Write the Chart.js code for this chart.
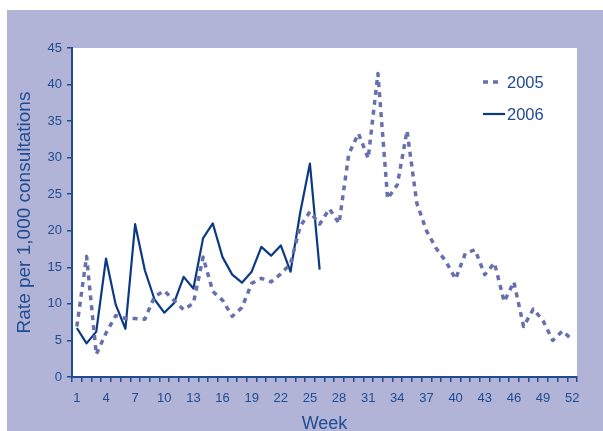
<!DOCTYPE html>
<html>
<head>
<meta charset="utf-8">
<script src="https://cdn.jsdelivr.net/npm/chart.js@4.4.1/dist/chart.umd.min.js"></script>
<style>
    html, body { margin: 0; padding: 0; background: #fff; overflow: hidden; }
    #wrap { position: absolute; left: 0; top: 0; width: 603px; height: 440px; }
</style>
</head>
<body>
<div id="wrap"><canvas id="chartRate" width="603" height="440"></canvas></div>
<script>
const WEEKS = ['1', '2', '3', '4', '5', '6', '7', '8', '9', '10', '11', '12', '13', '14', '15', '16', '17', '18',
    '19', '20', '21', '22', '23', '24', '25', '26', '27', '28', '29', '30', '31', '32', '33', '34', '35', '36',
    '37', '38', '39', '40', '41', '42', '43', '44', '45', '46', '47', '48', '49', '50', '51', '52'];

const RATE_2005 = [6.9, 16.5, 3.1, 6.0, 8.4, 8.0, 8.0, 7.9, 11.0, 11.8, 10.5, 9.2, 10.1, 16.4, 11.7, 10.5, 8.3, 9.5,
    12.8, 13.5, 13.0, 14.1, 15.5, 20.6, 22.6, 20.9, 23.0, 21.0, 30.5, 33.3, 29.9, 41.5, 24.4, 26.3, 33.7, 23.8,
    20.0, 17.6, 15.8, 13.4, 16.9, 17.4, 14.0, 15.6, 10.3, 13.0, 6.9, 9.3, 7.7, 5.0, 6.3, 5.1];

const RATE_2006 = [6.7, 4.6, 6.2, 16.2, 9.9, 6.6, 20.9, 14.6, 10.6, 8.8, 10.1, 13.7, 12.1, 19.0, 21.0, 16.4, 14.0, 12.9,
    14.4, 17.8, 16.6, 18.0, 14.4, 22.5, 29.2, 14.7];

const Y_TICKS = { min: 0, max: 45, step: 5 };

const INK = '#214c91';
const BG = '#b1b4d6';
const FONT = "'Liberation Sans', Arial, sans-serif";

// lavender frame + white plot area
const framePlugin = {
    id: 'frame',
    beforeDraw(chart) {
        const { ctx, chartArea: a } = chart;
        ctx.save();
        ctx.fillStyle = BG;
        ctx.fillRect(7, 10, chart.width - 7, chart.height - 10);
        ctx.fillStyle = '#ffffff';
        ctx.fillRect(a.left, a.top, a.right - a.left, a.bottom - a.top);
        ctx.restore();
    },
};

// legend inside the plot, top right
const legendPlugin = {
    id: 'insideLegend',
    afterDatasetsDraw(chart) {
        const { ctx } = chart;
        ctx.save();
        chart.data.datasets.forEach((ds, i) => {
            const y = 82 + i * 32;
            ctx.strokeStyle = ds.borderColor;
            ctx.lineWidth = ds.borderWidth;
            ctx.setLineDash(ds.borderDash || []);
            ctx.beginPath();
            ctx.moveTo(483, y);
            ctx.lineTo(ds.borderDash ? 501 : 505, y);
            ctx.stroke();
            ctx.setLineDash([]);
            ctx.fillStyle = INK;
            ctx.font = `16.5px ${FONT}`;
            ctx.textBaseline = 'middle';
            ctx.fillText(ds.label, 507, y + 1);
        });
        ctx.restore();
    },
};

new Chart(document.getElementById('chartRate'), {
    type: 'line',
    data: {
        labels: WEEKS,
        datasets: [{
            label: '2005',
            data: RATE_2005,
            borderColor: '#6770ad',
            borderWidth: 3.5,
            borderDash: [5, 5],
            borderJoinStyle: 'round',
            pointRadius: 0,
            tension: 0,
        }, {
            label: '2006',
            data: RATE_2006,
            borderColor: '#0c3a82',
            borderWidth: 2.2,
            borderJoinStyle: 'round',
            pointRadius: 0,
            tension: 0,
        }],
    },
    options: {
        responsive: false,
        animation: false,
        layout: { padding: { top: 48, right: 26, left: 0, bottom: 0 } },
        plugins: {
            legend: { display: false },
            tooltip: { enabled: false },
        },
        scales: {
            x: {
                type: 'category',
                offset: true,
                afterFit: s => { s.height = 63; },
                border: { color: INK, width: 2 },
                grid: { offset: true, drawOnChartArea: false, tickLength: 5, color: INK, lineWidth: 1.5 },
                ticks: {
                    autoSkip: false,
                    maxRotation: 0,
                    padding: 9,
                    color: INK,
                    font: { family: FONT, size: 13 },
                    callback: (v, i) => (i % 3 === 0 ? WEEKS[i] : ''),
                },
                title: {
                    display: true,
                    text: 'Week',
                    color: INK,
                    font: { family: FONT, size: 18 },
                    padding: { top: 0, bottom: 5 },
                },
            },
            y: {
                min: Y_TICKS.min,
                max: Y_TICKS.max,
                afterFit: s => { s.width = 72; },
                border: { color: INK, width: 2 },
                grid: { drawOnChartArea: false, tickLength: 5, color: INK, lineWidth: 1.5 },
                ticks: {
                    stepSize: Y_TICKS.step,
                    padding: 5,
                    color: INK,
                    font: { family: FONT, size: 13 },
                },
                title: {
                    display: true,
                    text: 'Rate per 1,000 consultations',
                    color: INK,
                    font: { family: FONT, size: 19 },
                    padding: { top: 13, bottom: 0 },
                },
            },
        },
    },
    plugins: [framePlugin, legendPlugin],
});
</script>
</body>
</html>
